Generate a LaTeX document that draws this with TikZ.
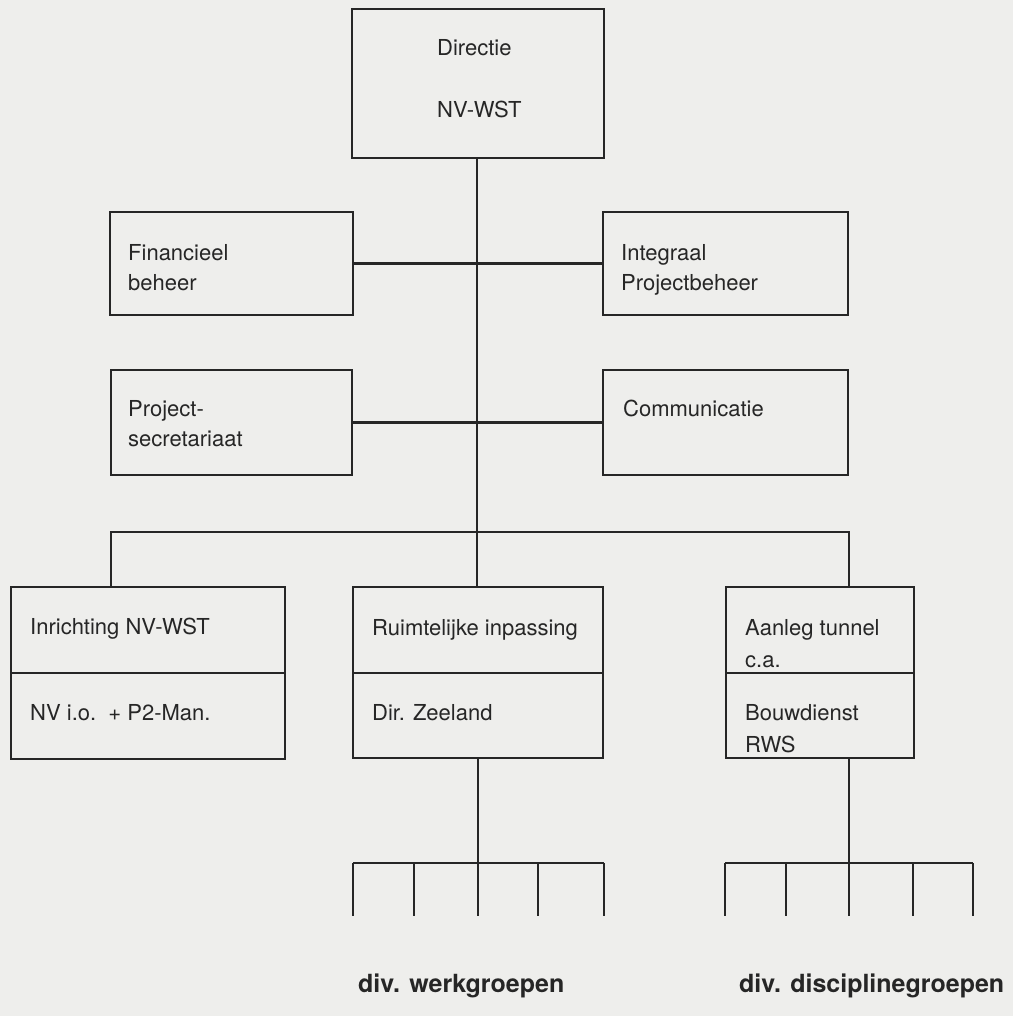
\documentclass[tikz,border=0pt]{standalone}
\usepackage{fontspec}
\setmainfont{TeX Gyre Heros}
\definecolor{paper}{RGB}{238,238,236}
\definecolor{ink}{RGB}{38,38,38}
\begin{document}
\begin{tikzpicture}[x=1pt,y=-1pt,
  box/.style={draw=ink, line width=2.6pt, inner sep=0pt, outer sep=0pt, rectangle, anchor=north west},
  lbl/.style={anchor=base west, inner sep=0pt, text=ink, font=\fontsize{22}{26}\selectfont},
  conn/.style={draw=ink, line width=2.3pt},
  glbl/.style={anchor=base west, inner sep=0pt, text=ink, font=\fontsize{25}{30}\selectfont\bfseries}]
\fill[paper] (0,0) rectangle (1013,1016);
\useasboundingbox (0,0) rectangle (1013,1016);

% boxes
\node[box, minimum width=252pt, minimum height=149pt] (dir) at (352,9) {};
\node[box, minimum width=243pt, minimum height=103pt] (fin) at (110,212) {};
\node[box, minimum width=245pt, minimum height=103pt] (int) at (603,212) {};
\node[box, minimum width=241pt, minimum height=105pt] (prj) at (111,370) {};
\node[box, minimum width=245pt, minimum height=105pt] (com) at (603,370) {};
\node[box, minimum width=274pt, minimum height=86pt] (inrU) at (11,587) {};
\node[box, minimum width=274pt, minimum height=86pt] (inrL) at (11,673) {};
\node[box, minimum width=250pt, minimum height=86pt] (ruiU) at (353,587) {};
\node[box, minimum width=250pt, minimum height=85pt] (ruiL) at (353,673) {};
\node[box, minimum width=188pt, minimum height=86pt] (aanU) at (726,587) {};
\node[box, minimum width=188pt, minimum height=85pt] (aanL) at (726,673) {};

% labels
\node[lbl] (tdir1) at (437,56) {Directie};
\node[lbl] (tdir2) at (437,118) {NV-WST};
\node[lbl] (tfin1) at (128,260) {Financieel};
\node[lbl] (tfin2) at (128,290) {beheer};
\node[lbl] (tint1) at (621,260) {Integraal};
\node[lbl] (tint2) at (621,290) {Projectbeheer};
\node[lbl] (tprj1) at (128,416) {Project-};
\node[lbl] (tprj2) at (128,446) {secretariaat};
\node[lbl] (tcom) at (623,416) {Communicatie};
\node[lbl] (tinr1) at (30,634) {Inrichting NV-WST};
\node[lbl] (tinr2) at (30,720) {NV i.o.\ \ + P2-Man.};
\node[lbl] (trui1) at (372,635) {Ruimtelijke inpassing};
\node[lbl] (trui2) at (372,720) {Dir. Zeeland};
\node[lbl] (taan1) at (745,635) {Aanleg tunnel};
\node[lbl] (taan2) at (745,667) {c.a.};
\node[lbl] (taan3) at (745,720) {Bouwdienst};
\node[lbl] (taan4) at (745,752) {RWS};
\node[glbl] (twg) at (358,992) {div. werkgroepen};
\node[glbl] (tdg) at (739,992) {div. disciplinegroepen};

% connectors
\coordinate (busL) at (111,532);
\coordinate (busM) at (477,532);
\coordinate (busR) at (849,532);
\draw[conn] (dir.south -| busM) -- (busM);
\draw[conn] (fin.east) -- (int.west);
\draw[conn] (prj.east) -- (com.west);
\draw[conn] (busL |- inrU.north) -- (busL) -- (busR) -- (busR |- aanU.north);
\draw[conn] (busM) -- (busM |- ruiU.north);

% sub groups
\coordinate (wg) at (478,863);
\coordinate (dg) at (849,863);
\draw[conn] (ruiL.south -| wg) -- (wg);
\draw[conn] (aanL.south -| dg) -- (dg);
\foreach \n/\x in {w1/353,w2/414,w3/478,w4/538,w5/604,d1/725,d2/786,d3/849,d4/913,d5/973}{
  \coordinate (\n) at (\x,916);
}
\draw[conn] (w1 |- wg) -- (w5 |- wg);
\draw[conn] (d1 |- dg) -- (d5 |- dg);
\foreach \n in {w1,w2,w3,w4,w5}{\draw[conn] (\n |- wg) -- (\n);}
\foreach \n in {d1,d2,d3,d4,d5}{\draw[conn] (\n |- dg) -- (\n);}
\end{tikzpicture}
\end{document}
